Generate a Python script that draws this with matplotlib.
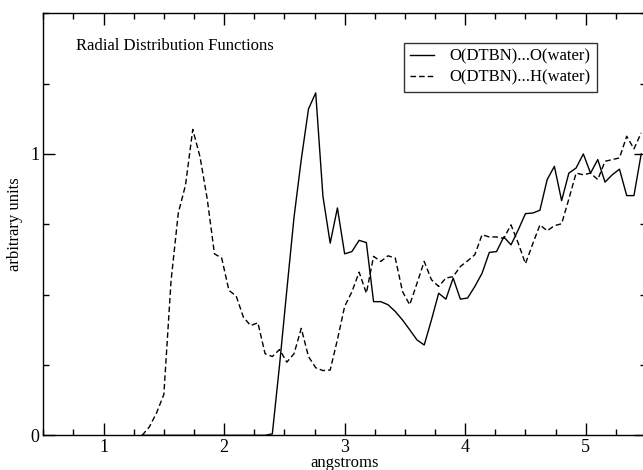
import numpy as np
import matplotlib
matplotlib.use("Agg")
import matplotlib.pyplot as plt
from matplotlib.ticker import MultipleLocator, FixedLocator

# ---- data ----
x_h = [1.32, 1.38, 1.44, 1.50, 1.56, 1.62, 1.68, 1.74, 1.80, 1.86, 1.92, 1.98,
       2.04, 2.10, 2.16, 2.22, 2.28, 2.34, 2.40, 2.46, 2.52, 2.58, 2.64, 2.70,
       2.76, 2.82, 2.88, 2.94, 3.00, 3.06, 3.12, 3.18, 3.24, 3.30, 3.36, 3.42,
       3.48, 3.54, 3.60, 3.66, 3.72, 3.78, 3.84, 3.90, 3.96, 4.02, 4.08, 4.14,
       4.20, 4.26, 4.32, 4.38, 4.44, 4.50, 4.56, 4.62, 4.68, 4.74, 4.80, 4.86,
       4.92, 4.98, 5.04, 5.10, 5.16, 5.22, 5.28, 5.34, 5.40, 5.46]
g_h = [0.0, 0.03, 0.08, 0.145, 0.55, 0.79, 0.89, 1.087, 0.99, 0.84, 0.645, 0.63,
       0.515, 0.495, 0.42, 0.39, 0.40, 0.29, 0.28, 0.305, 0.26, 0.29, 0.38, 0.28,
       0.24, 0.23, 0.232, 0.34, 0.458, 0.51, 0.58, 0.505, 0.636, 0.618, 0.638, 0.63,
       0.511, 0.464, 0.54, 0.618, 0.553, 0.529, 0.559, 0.564, 0.60, 0.62, 0.642, 0.713,
       0.705, 0.705, 0.70, 0.748, 0.683, 0.61, 0.68, 0.748, 0.727, 0.745, 0.752, 0.84,
       0.932, 0.926, 0.932, 0.909, 0.974, 0.98, 0.986, 1.063, 1.018, 1.075]

x_o = [1.32, 1.38, 1.44, 1.50, 1.56, 1.62, 1.68, 1.74, 1.80, 1.86, 1.92, 1.98,
       2.04, 2.10, 2.16, 2.22, 2.28, 2.34, 2.40, 2.46, 2.52, 2.58, 2.64, 2.70,
       2.76, 2.82, 2.88, 2.94, 3.00, 3.06, 3.12, 3.18, 3.24, 3.30, 3.36, 3.42,
       3.48, 3.54, 3.60, 3.66, 3.72, 3.78, 3.84, 3.90, 3.96, 4.02, 4.08, 4.14,
       4.20, 4.26, 4.32, 4.38, 4.44, 4.50, 4.56, 4.62, 4.68, 4.74, 4.80, 4.86,
       4.92, 4.98, 5.04, 5.10, 5.16, 5.22, 5.28, 5.34, 5.40, 5.46]
g_o = [0.0, 0.0, 0.0, 0.0, 0.0, 0.0, 0.0, 0.0, 0.0, 0.0, 0.0, 0.0,
       0.0, 0.0, 0.0, 0.0, 0.0, 0.0, 0.005, 0.25, 0.515, 0.775, 0.98, 1.16,
       1.217, 0.849, 0.683, 0.808, 0.645, 0.653, 0.693, 0.685, 0.475, 0.475, 0.464, 0.44,
       0.41, 0.375, 0.339, 0.321, 0.41, 0.505, 0.484, 0.559, 0.484, 0.488, 0.529, 0.576,
       0.65, 0.653, 0.705, 0.677, 0.73, 0.788, 0.79, 0.80, 0.909, 0.956, 0.834, 0.932,
       0.95, 1.0, 0.932, 0.98, 0.90, 0.926, 0.946, 0.852, 0.852, 1.0]

labels = ["O(DTBN)...O(water)", "O(DTBN)...H(water)"]
x_ticks = [1, 2, 3, 4, 5]
y_ticks = [0, 1]

W, H = 643, 470
fig = plt.figure(figsize=(W / 100, H / 100), dpi=100)
plt.rcParams['font.family'] = ['Liberation Serif', 'DejaVu Serif']

left, right, top, bottom = 43.3, 646.0, 13.3, 435.3
ax = fig.add_axes([left / W, (H - bottom) / H, (right - left) / W, (bottom - top) / H])

ax.plot(x_o, g_o, color='black', lw=1.0, label=labels[0])
ax.plot(x_h, g_h, color='black', lw=1.0, linestyle=(0, (4, 2.2)), label=labels[1])

ax.set_xlim(0.5, 5.5)
ax.set_ylim(0, 1.5)
ax.xaxis.set_major_locator(FixedLocator(x_ticks))
ax.xaxis.set_minor_locator(MultipleLocator(0.25))
ax.yaxis.set_major_locator(FixedLocator(y_ticks))
ax.yaxis.set_minor_locator(MultipleLocator(0.25))
ax.tick_params(which='both', direction='in', top=True, right=True, width=1.0,
               labelsize=13, pad=3)
ax.tick_params(which='major', length=8.5)
ax.tick_params(which='minor', length=4)
for s in ax.spines.values():
    s.set_linewidth(1.0)

ax.set_xlabel('angstroms', fontsize=12, labelpad=-1)
ax.set_ylabel('arbitrary units', fontsize=12, labelpad=5)

fig.text(76 / W, 1 - 46 / H, 'Radial Distribution Functions', fontsize=12,
         ha='left', va='center')

leg = ax.legend(loc='upper left', bbox_to_anchor=(404 / W, 1 - 43 / H),
                bbox_transform=fig.transFigure, borderaxespad=0, fontsize=12,
                frameon=True, fancybox=False, handlelength=1.45, handletextpad=0.95,
                labelspacing=0.3, borderpad=0.35)
leg.get_frame().set_edgecolor('black')
leg.get_frame().set_linewidth(1.0)

fig.savefig('out.png', dpi=100)
